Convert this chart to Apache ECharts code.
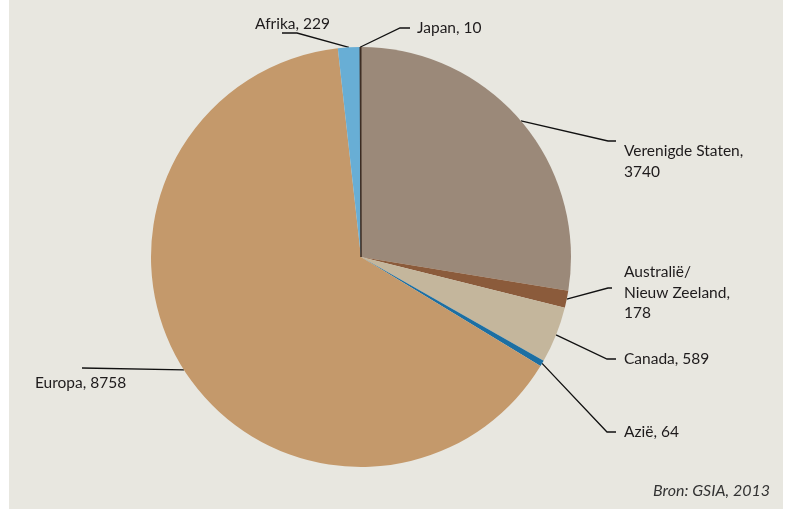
<!DOCTYPE html>
<html>
<head>
<meta charset="utf-8">
<script src="https://cdn.jsdelivr.net/npm/echarts@6/dist/echarts.min.js"></script>
<style>
  html, body { margin: 0; padding: 0; background: #fff; }
  #main { width: 785px; height: 511px; }
</style>
</head>
<body>
<div id="main"></div>
<script>
const regions = ['Verenigde Staten', 'Australië/\nNieuw Zeeland', 'Canada', 'Azië', 'Europa', 'Afrika', 'Japan'];
const values = [3740, 178, 589, 64, 8758, 229, 10];
const colors = ['#9b8979', '#8b5b3b', '#c4b69c', '#1c6fa3', '#c4996b', '#68aed5', '#3b2a20'];
// which labels put the value on its own line
const valueOnNewLine = [true, true, false, false, false, false, false];

// label placement: text anchor point and where the leader line ends
const labelSpots = [
    { x: 624, y: 141, vAlign: 'top', bend: [608, 141], end: [616, 141] },
    { x: 624, y: 262, vAlign: 'top', bend: [608, 288], end: [612, 288] },
    { x: 624, y: 359, vAlign: 'middle', bend: [607, 359], end: [616, 359] },
    { x: 624, y: 432, vAlign: 'middle', bend: [607, 432], end: [616, 432] },
    { x: 35, y: 383, vAlign: 'middle', bend: [82, 368], end: [82, 368] },
    { x: 255, y: 24, vAlign: 'middle', bend: [297, 33], end: [282, 33] },
    { x: 417, y: 28, vAlign: 'middle', bend: [400, 28], end: [410, 28] }
];

const chart = echarts.init(document.getElementById('main'));

const option = {
    animation: false,
    textStyle: { fontFamily: 'Lato' },
    graphic: [{
        type: 'rect',
        z: -10,
        silent: true,
        shape: { x: 9, y: 0, width: 774, height: 509 },
        style: { fill: '#e8e7e0' }
    }, {
        type: 'text',
        right: 15,
        top: 483,
        style: {
            text: 'Bron: GSIA, 2013',
            font: 'italic 16px Lato',
            fill: '#333'
        }
    }],
    series: [{
        type: 'pie',
        center: [361, 257],
        radius: 210,
        startAngle: 90,
        clockwise: true,
        avoidLabelOverlap: false,
        data: regions.map((name, i) => ({
            name: name,
            value: values[i],
            itemStyle: i === 6
                ? { color: colors[i], borderColor: colors[i], borderWidth: 1 }
                : { color: colors[i] }
        })),
        label: {
            show: true,
            formatter: (p) => p.name + (valueOnNewLine[p.dataIndex] ? ',\n' : ', ') + p.value,
            color: '#1e1b1c',
            fontSize: 15.5,
            lineHeight: 20.5
        },
        labelLine: {
            show: true,
            lineStyle: { color: '#111', width: 1.3 }
        },
        labelLayout: (params) => {
            const s = labelSpots[params.dataIndex];
            const start = params.labelLinePoints[0];
            return {
                x: s.x,
                y: s.y,
                align: 'left',
                verticalAlign: s.vAlign,
                labelLinePoints: [start, s.bend, s.end]
            };
        }
    }]
};

chart.setOption(option);
</script>
</body>
</html>
